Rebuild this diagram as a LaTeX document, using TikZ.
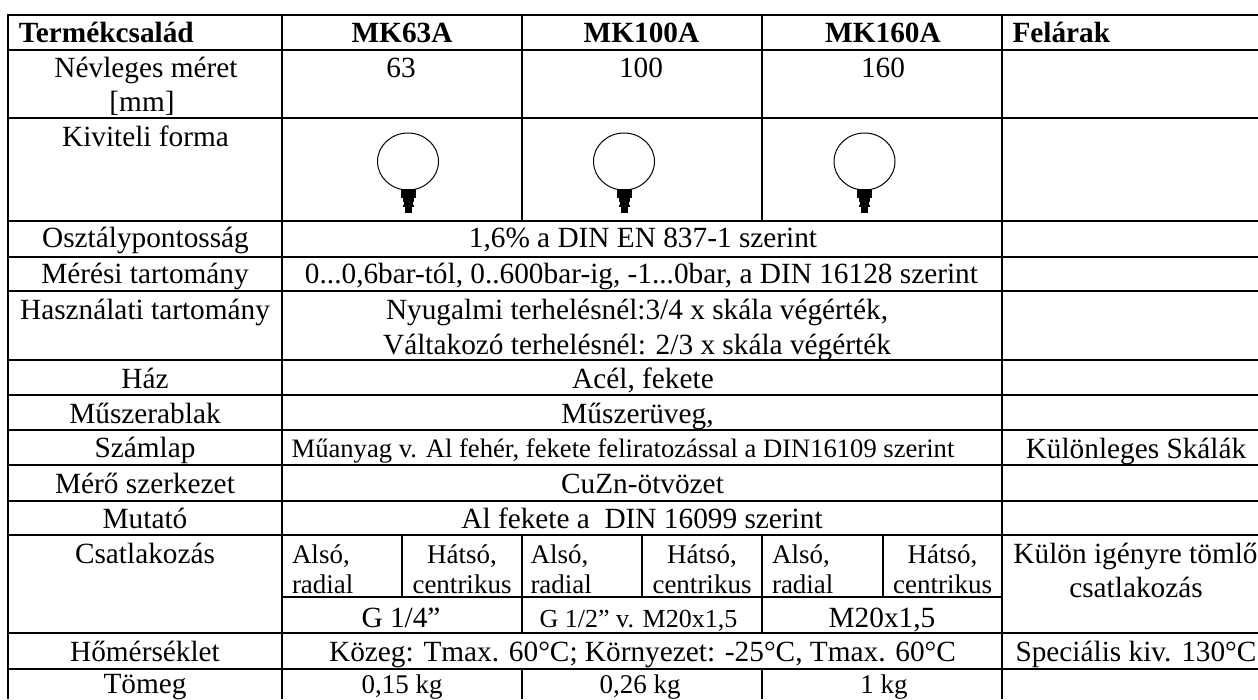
\documentclass[tikz,border=0pt]{standalone}
\usepackage{fontspec}
\setmainfont{Liberation Serif}
\newcommand\szA{\fontsize{29.3}{33}\selectfont}
\newcommand\szB{\fontsize{27}{31}\selectfont}
\newcommand\szC{\fontsize{26.6}{30}\selectfont}
\newcommand\szD{\fontsize{26}{30}\selectfont}
\tikzset{
  txt/.style={inner sep=0pt,outer sep=0pt,anchor=base,font=\szA},
  txtl/.style={txt,anchor=base west},
  hd/.style={txt,font=\szA\bfseries},
  hdl/.style={hd,anchor=base west},
  sub/.style={txt,font=\szB},
  subl/.style={sub,anchor=base west},
  hrule/.style={line width=2.6pt,black},
  vrule/.style={line width=2.2pt,black},
  thin rule/.style={line width=1.8pt,black},
  bulbline/.style={line width=1pt,black},
}
\begin{document}
\begin{tikzpicture}[x=1pt,y=-1pt]
\useasboundingbox (0,0) rectangle (1258,699);
% horizontal rules
\foreach \yy in {15,50,118,221,257,291,360,395,430,465,501,535,633,669}
  \draw[hrule] (7,\yy) -- (1258,\yy);
\draw[thin rule] (282,597) -- (1002,597);
% vertical rules
\draw[vrule] (8,14) -- (8,699);
\draw[vrule] (282,14) -- (282,699);
\draw[vrule] (1002,14) -- (1002,699);
\foreach \xx in {522,762} {
  \draw[vrule] (\xx,15) -- (\xx,221);
  \draw[thin rule] (\xx,535) -- (\xx,633);
  \draw[thin rule] (\xx,669) -- (\xx,699);
}
\foreach \xx in {402,642,883}
  \draw[thin rule] (\xx,535) -- (\xx,597);
% gauges
\foreach \cx/\nm in {408/ga,624/gb,864.5/gc} {
  \begin{scope}[shift={(\cx,0)}]
    \fill[black] (-7.5,189) rectangle (7.5,198);
    \fill[black] (-5.5,198) rectangle (5.5,202);
    \fill[black] (-4.5,202) rectangle (4.5,205);
    \fill[black] (-5.5,205) rectangle (5.5,207);
    \fill[black] (-3.5,207) rectangle (3.5,213);
    \draw[bulbline] (0,161.5) ellipse [x radius=30.5,y radius=28.5];
  \end{scope}
}
% header
\node[hdl] (h0) at (19,42) {Termékcsalád};
\node[hd] (h1) at (402,42) {MK63A};
\node[hd] (h2) at (641.5,42) {MK100A};
\node[hd] (h3) at (883,42) {MK160A};
\node[hdl] (h4) at (1012.5,42) {Felárak};
% first column
\node[txt] (a1) at (146,77) {Névleges méret};
\node[txt] (a1b) at (142,111) {[mm]};
\node[txt] (a2) at (145.5,146) {Kiviteli forma};
\node[txt] (a3) at (145.5,247) {Osztálypontosság};
\node[txt] (a4) at (145,283) {Mérési tartomány};
\node[txt] (a5) at (145,319) {Használati tartomány};
\node[txt] (a6) at (145,388) {Ház};
\node[txt] (a7) at (145,423) {Műszerablak};
\node[txt] (a8) at (145,457) {Számlap};
\node[txt] (a9) at (145,493) {Mérő szerkezet};
\node[txt] (a10) at (145,528) {Mutató};
\node[txt] (a11) at (145,563) {Csatlakozás};
\node[txt] (a12) at (145,661.5) {Hőmérséklet};
\node[txt] (a13) at (145,693) {Tömeg};
% sizes
\node[txt] (s1) at (401,77) {63};
\node[txt] (s2) at (641,77) {100};
\node[txt] (s3) at (883,77) {160};
% spanned rows
\node[txt] (b3) at (643,247) {1,6\% a DIN EN 837-1 szerint};
\node[txt] (b4) at (641.5,283) {0...0,6bar-tól, 0..600bar-ig, -1...0bar, a DIN 16128 szerint};
\node[txt] (b5) at (637,319) {Nyugalmi terhelésnél:3/4 x skála végérték,};
\node[txt] (b5b) at (637,354) {Váltakozó terhelésnél: 2/3 x skála végérték};
\node[txt] (b6) at (643,388) {Acél, fekete};
\node[txt] (b7) at (637.5,423) {Műszerüveg,};
\node[txt,font=\szC] (b8) at (623,457) {Műanyag v. Al fehér, fekete feliratozással a DIN16109 szerint};
\node[txt] (b9) at (642.5,493) {CuZn-ötvözet};
\node[txt] (b10) at (642,528) {Al fekete a\ \ DIN 16099 szerint};
\node[txt] (b12) at (642.5,661.5) {Közeg: Tmax. 60°C; Környezet: -25°C, Tmax. 60°C};
% connection cells
\foreach \xl/\xc/\nm in {292/462/c,530.5/702/d,772/942.5/e} {
  \node[subl] (\nm a) at (\xl,563) {Alsó,};
  \node[subl] (\nm b) at (\xl,593) {radial};
  \node[sub] (\nm c) at (\xc,563) {Hátsó,};
  \node[sub] (\nm d) at (\xc,593) {centrikus};
}
\node[txt] (g1) at (401,627) {G 1/4”};
\node[txt,font=\szD] (g2) at (638.5,627) {G 1/2” v. M20x1,5};
\node[txt] (g3) at (882,627) {M20x1,5};
% weights
\node[sub] (k1) at (402,693) {0,15 kg};
\node[sub] (k2) at (640,693) {0,26 kg};
\node[sub] (k3) at (884,693) {1 kg};
% extras
\node[txt] (f8) at (1136,458) {Különleges Skálák};
\node[txt] (f11) at (1135.5,563) {Külön igényre tömlő};
\node[txt] (f11b) at (1136,597) {csatlakozás};
\node[txt] (f12) at (1136,661.5) {Speciális kiv. 130°C};
\end{tikzpicture}
\end{document}
